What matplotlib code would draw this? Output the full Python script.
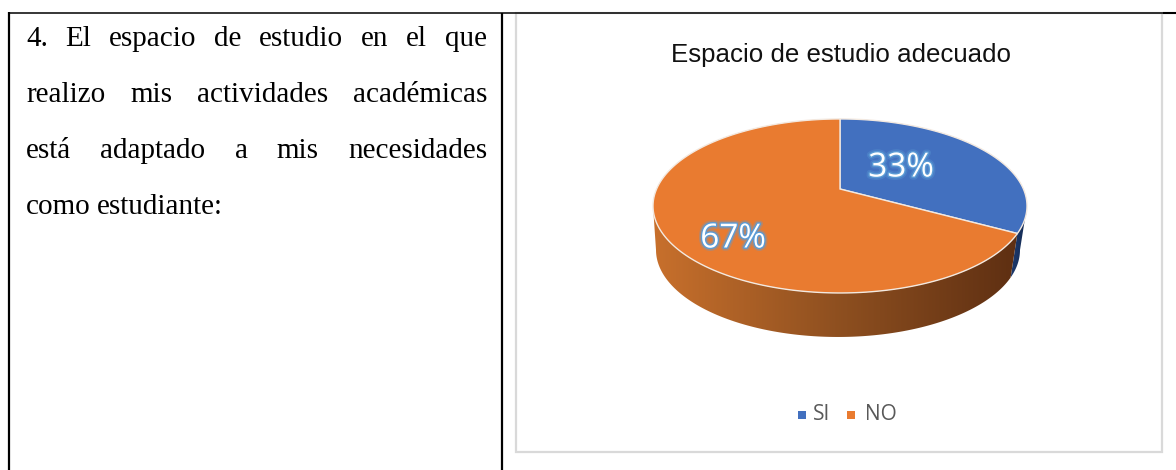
import numpy as np
import matplotlib
matplotlib.use("Agg")
import matplotlib.pyplot as plt
import matplotlib.patheffects as pe
from matplotlib.colors import LinearSegmentedColormap
from matplotlib.patches import Polygon, Rectangle

# Data
labels = ["SI", "NO"]
values = [33, 67]
title = "Espacio de estudio adecuado"
question = [
    "4. El espacio de estudio en el que",
    "realizo mis actividades académicas",
    "está adaptado a mis necesidades",
    "como estudiante:",
]
top_colors = ["#4270BF", "#E97B30"]
side_colors = [["#1D3A6E", "#14294F"], ["#C8702C", "#8F5020", "#5E2F12"]]

fig = plt.figure(figsize=(11.76, 4.70), dpi=100)
ax = fig.add_axes([0, 0, 1, 1])
ax.set_xlim(0, 1176)
ax.set_ylim(470, 0)
ax.axis("off")

# Table lines and chart frame
ax.add_patch(Rectangle((516, 13), 646, 439, fc="white", ec="#D9D9D9", lw=1.6))
ax.plot([9, 9], [470, 12], color="black", lw=1.6, solid_capstyle="butt")
ax.plot([8, 1163], [12.8, 12.8], color="black", lw=1.1, solid_capstyle="butt")
ax.plot([1163, 1176], [13, 13], color="black", lw=1.5, solid_capstyle="butt")
ax.plot([502, 502], [13, 470], color="black", lw=1.6, solid_capstyle="butt")

# Question text, justified inside the cell
fig.canvas.draw()
renderer = fig.canvas.get_renderer()
baselines = [46, 102, 158, 214]
left, right = 26, 487
for i, line in enumerate(question):
    words = line.split(" ")
    texts = [ax.text(left, baselines[i], w, family="Liberation Serif", fontsize=21,
                     color="black", va="baseline") for w in words]
    widths = [t.get_window_extent(renderer).width for t in texts]
    gap = 6.5
    if i < len(question) - 1:
        gap = (right - left - sum(widths)) / (len(words) - 1)
    x = left
    for t, w in zip(texts, widths):
        t.set_x(x)
        x += w + gap

ax.text(841, 55, title, family="Liberation Sans", fontsize=18.6, color="#111111",
        ha="center", va="center")


# Perspective view of the pie disc
def top_xy(theta):
    d = 1 + 0.195 * np.cos(theta)
    return 840 + 183.4 * np.sin(theta) / d, 189 - 83.7 * np.cos(theta) / d


def low_xy(theta):
    x, y = top_xy(theta)
    return 838 + (x - 840) * 182 / 187, y + 44


fractions = np.array(values) / sum(values)
edges = np.concatenate([[0], np.cumsum(fractions)]) * 2 * np.pi
vis_start = np.arccos(-0.195)
vis_end = 2 * np.pi - vis_start

# Side wall, one gradient per slice
for i in range(len(values)):
    a = max(edges[i], vis_start)
    b = min(edges[i + 1], vis_end)
    th = np.linspace(a, b, 200)
    tx, ty = top_xy(th)
    lx, ly = low_xy(th)
    poly = Polygon(np.column_stack([np.r_[tx, lx[::-1]], np.r_[ty, ly[::-1]]]),
                   fc="none", ec="none", transform=ax.transData)
    ax.add_patch(poly)
    cmap = LinearSegmentedColormap.from_list("side", side_colors[i])
    x0, x1 = min(tx.min(), lx.min()), max(tx.max(), lx.max())
    grad = np.linspace(0, 1, 256).reshape(1, -1)
    im = ax.imshow(grad, extent=[x0, x1, ly.max() + 2, ty.min() - 2], cmap=cmap,
                   aspect="auto", zorder=2)
    im.set_clip_path(poly)
ax.set_xlim(0, 1176)
ax.set_ylim(470, 0)

# Top face
for i in range(len(values)):
    th = np.linspace(edges[i], edges[i + 1], 200)
    tx, ty = top_xy(th)
    ax.add_patch(Polygon(np.column_stack([np.r_[840, tx], np.r_[189, ty]]), fc=top_colors[i],
                         ec="#F3E9E0", lw=1.0, zorder=3))

# Percent labels
label_pos = [(901, 168), (733, 239)]
for val, (x, y) in zip(values, label_pos):
    ax.text(x, y, f"{val}%", family="Open Sans", fontsize=24, color="white", ha="center",
            va="center", zorder=5,
            path_effects=[pe.withStroke(linewidth=4.5, foreground="#5B9BD5", alpha=0.35),
                          pe.withStroke(linewidth=2.0, foreground="#5B9BD5")])

# Legend
legend_sq = [797.5, 847]
legend_tx = [813, 865]
for lab, col, sx, tx in zip(labels, top_colors, legend_sq, legend_tx):
    ax.add_patch(Rectangle((sx, 410.5), 8, 8, fc=col, ec="none"))
    ax.text(tx, 414, lab, family="Open Sans", fontsize=15, color="#595959", va="center")

fig.savefig("out.png", dpi=100)
